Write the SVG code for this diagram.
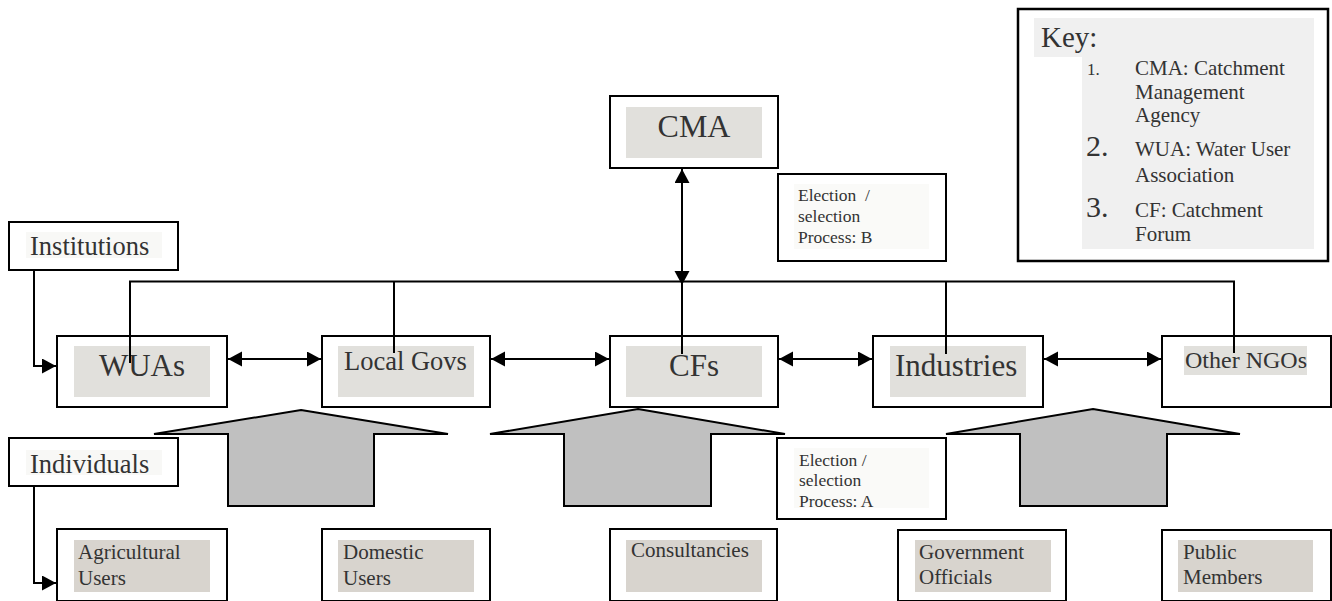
<svg xmlns="http://www.w3.org/2000/svg" width="1332" height="601" viewBox="0 0 1332 601">
<style>
  text { font-family: "Liberation Serif", "Times New Roman", serif; fill: #333; }
  .box { fill: #fff; stroke: #000; stroke-width: 2; }
  .bgTop { fill: #e1e0dc; }
  .bgLow { fill: #d8d4ce; }
  .bgLight { fill: #f8f8f6; }
  .bgKey { fill: #f0f0f0; }
  .conn { fill: none; stroke: #000; stroke-width: 2; }
  .block { fill: #c0c0c0; stroke: #000; stroke-width: 2; stroke-linejoin: miter; }
</style>
<defs>
  <marker id="ah" markerUnits="userSpaceOnUse" markerWidth="15" markerHeight="16" refX="14" refY="7.5" orient="auto-start-reverse">
    <path d="M0,0 L14,7.5 L0,15 z" fill="#000"/>
  </marker>
</defs>
<rect width="1332" height="601" fill="#fff"/>

<g id="key">
  <rect x="1018" y="9" width="310" height="252" fill="#fff" stroke="#000" stroke-width="2.5"/>
  <rect class="bgKey" x="1034" y="18" width="64" height="39"/>
  <rect class="bgKey" x="1082" y="18" width="232" height="231"/>
  <text x="1041" y="47" font-size="29">Key:</text>
  <text x="1087" y="75" font-size="17">1.</text>
  <text x="1135" y="75" font-size="21">CMA: Catchment</text>
  <text x="1135" y="99" font-size="21">Management</text>
  <text x="1135" y="122" font-size="21">Agency</text>
  <text x="1086" y="156" font-size="30">2.</text>
  <text x="1135" y="156" font-size="21">WUA: Water User</text>
  <text x="1135" y="182" font-size="21">Association</text>
  <text x="1086" y="217" font-size="30">3.</text>
  <text x="1135" y="217" font-size="21">CF: Catchment</text>
  <text x="1135" y="241" font-size="21">Forum</text>
</g>

<g id="cma">
  <rect class="box" x="610" y="96" width="168" height="72"/>
  <rect class="bgTop" x="626" y="107" width="136" height="51"/>
  <text x="694" y="137" font-size="32" text-anchor="middle">CMA</text>
</g>

<g id="electionB">
  <rect class="box" x="778" y="174" width="168" height="87"/>
  <rect fill="#fafaf8" x="794" y="184" width="135" height="65"/>
  <text x="798" y="201" font-size="17.5" xml:space="preserve">Election  /</text>
  <text x="798" y="222" font-size="17.5">selection</text>
  <text x="798" y="243" font-size="17.5">Process: B</text>
</g>

<g id="institutions">
  <rect class="box" x="9" y="222" width="169" height="48"/>
  <rect class="bgLight" x="26" y="232" width="136" height="26"/>
  <text x="30" y="255" font-size="26.5">Institutions</text>
</g>

<g id="wuas">
  <rect class="box" x="57" y="336" width="170" height="71"/>
  <rect class="bgTop" x="74" y="346" width="136" height="51"/>
  <text x="142" y="376" font-size="31" text-anchor="middle">WUAs</text>
</g>

<g id="localgovs">
  <rect class="box" x="322" y="336" width="168" height="71"/>
  <rect class="bgTop" x="338" y="346" width="136" height="51"/>
  <text x="344" y="370" font-size="26.5">Local Govs</text>
</g>

<g id="cfs">
  <rect class="box" x="610" y="336" width="168" height="71"/>
  <rect class="bgTop" x="626" y="346" width="136" height="51"/>
  <text x="694" y="376" font-size="31" text-anchor="middle">CFs</text>
</g>

<g id="industries">
  <rect class="box" x="873" y="336" width="170" height="71"/>
  <rect class="bgTop" x="890" y="346" width="136" height="51"/>
  <text x="895" y="376" font-size="31">Industries</text>
</g>

<g id="otherngos">
  <rect class="box" x="1162" y="336" width="169" height="71"/>
  <rect class="bgTop" x="1184" y="346" width="123" height="29"/>
  <text x="1185" y="368" font-size="24">Other NGOs</text>
</g>

<g id="individuals">
  <rect class="box" x="9" y="438" width="169" height="48"/>
  <rect class="bgLight" x="26" y="450" width="136" height="25"/>
  <text x="30" y="473" font-size="26.5">Individuals</text>
</g>

<g id="electionA">
  <rect class="box" x="777" y="438" width="169" height="81"/>
  <rect fill="#fafaf8" x="794" y="448" width="135" height="60"/>
  <text x="799" y="466" font-size="17.5">Election /</text>
  <text x="799" y="486" font-size="17.5">selection</text>
  <text x="799" y="507" font-size="17.5">Process: A</text>
</g>

<g id="agricultural">
  <rect class="box" x="57" y="529" width="170" height="72"/>
  <rect class="bgLow" x="74" y="540" width="136" height="52"/>
  <text x="78" y="559" font-size="21">Agricultural</text>
  <text x="78" y="585" font-size="21">Users</text>
</g>

<g id="domestic">
  <rect class="box" x="322" y="529" width="168" height="72"/>
  <rect class="bgLow" x="338" y="540" width="136" height="52"/>
  <text x="343" y="559" font-size="21">Domestic</text>
  <text x="343" y="585" font-size="21">Users</text>
</g>

<g id="consultancies">
  <rect class="box" x="610" y="529" width="167" height="72"/>
  <rect class="bgLow" x="626" y="540" width="136" height="52"/>
  <text x="631" y="557" font-size="21">Consultancies</text>
</g>

<g id="government">
  <rect class="box" x="898" y="530" width="168" height="71"/>
  <rect class="bgLow" x="915" y="540" width="136" height="52"/>
  <text x="919" y="559" font-size="21">Government</text>
  <text x="919" y="584" font-size="21">Officials</text>
</g>

<g id="public">
  <rect class="box" x="1162" y="530" width="169" height="71"/>
  <rect class="bgLow" x="1178" y="540" width="135" height="52"/>
  <text x="1183" y="559" font-size="21">Public</text>
  <text x="1183" y="584" font-size="21">Members</text>
</g>

<g id="blockArrows">
  <polygon class="block" points="301,410 448,434 374,434 374,506 228,506 228,434 154,434"/>
  <polygon class="block" points="638,409 785,434 711,434 711,506 564,506 564,434 490,434"/>
  <polygon class="block" points="1093,409 1240,434 1167,434 1167,506 1020,506 1020,434 946,434"/>
</g>

<g id="connectors">
  <path class="conn" d="M130,363 V281.5 H1234 V353"/>
  <path class="conn" d="M394,281.5 V353"/>
  <path class="conn" d="M682,281.5 V354"/>
  <path class="conn" d="M946,281.5 V354"/>
  <path class="conn" d="M682,169 V285" marker-start="url(#ah)" marker-end="url(#ah)"/>
  <path class="conn" d="M228,359 H321" marker-start="url(#ah)" marker-end="url(#ah)"/>
  <path class="conn" d="M491,359 H609" marker-start="url(#ah)" marker-end="url(#ah)"/>
  <path class="conn" d="M779,359 H872" marker-start="url(#ah)" marker-end="url(#ah)"/>
  <path class="conn" d="M1044,359 H1161" marker-start="url(#ah)" marker-end="url(#ah)"/>
  <path class="conn" d="M34,270 V366 H56" marker-end="url(#ah)"/>
  <path class="conn" d="M34,486 V583 H56" marker-end="url(#ah)"/>
</g>
</svg>
